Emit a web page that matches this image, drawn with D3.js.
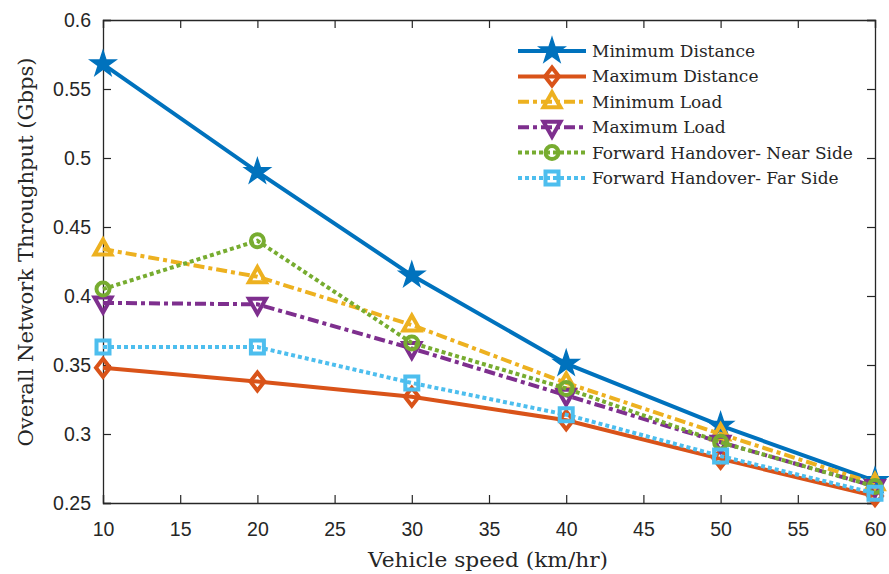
<!DOCTYPE html>
<meta charset="utf-8">
<head>
<script src="https://d3js.org/d3.v7.min.js"></script>
<style>
  body { margin: 0; background: #fff; }
  .tick text { font-family: "Liberation Sans", Arial, sans-serif; font-size: 19.5px; fill: #262626; }
  .lbl { font-family: "DejaVu Serif", serif; fill: #262626; }
</style>
</head>
<body>
<svg width="889" height="574"></svg>
<script>
// data
var speeds = [10, 20, 30, 40, 50, 60];
var minDistance = [0.568, 0.490, 0.415, 0.351, 0.306, 0.266];
var maxDistance = [0.348, 0.338, 0.327, 0.310, 0.282, 0.255];
var minLoad     = [0.434, 0.414, 0.379, 0.337, 0.300, 0.264];
var maxLoad     = [0.395, 0.394, 0.362, 0.328, 0.294, 0.262];
var nearSide    = [0.405, 0.440, 0.366, 0.333, 0.294, 0.262];
var farSide     = [0.363, 0.363, 0.337, 0.314, 0.284, 0.257];
var xTicks = [10, 15, 20, 25, 30, 35, 40, 45, 50, 55, 60];
var yTicks = [0.25, 0.3, 0.35, 0.4, 0.45, 0.5, 0.55, 0.6];

var series = [
  { name: "Minimum Distance", values: minDistance, color: "#0072BD", dash: null, marker: "star" },
  { name: "Maximum Distance", values: maxDistance, color: "#D95319", dash: null, marker: "diamond" },
  { name: "Minimum Load", values: minLoad, color: "#EDB120", dash: "11,4,4,4", marker: "up" },
  { name: "Maximum Load", values: maxLoad, color: "#7E2F8E", dash: "11,4,4,4", marker: "down" },
  { name: "Forward Handover- Near Side", values: nearSide, color: "#77AC30", dash: "4,3", marker: "circle" },
  { name: "Forward Handover- Far Side", values: farSide, color: "#4DBEEE", dash: "4,3", marker: "square" }
];

var svg = d3.select("svg");
var pLeft = 103, pRight = 875, pTop = 20, pBottom = 503;
var lw = 4;

var x = d3.scaleLinear().domain([10, 60]).range([pLeft, pRight]);
var y = d3.scaleLinear().domain([0.25, 0.6]).range([pBottom, pTop]);

// axes (ticks inward, box on)
var axisColor = "#262626";
var gx = svg.append("g").attr("transform", "translate(0," + pBottom + ")")
  .call(d3.axisBottom(x).tickValues(xTicks).tickSize(-8).tickPadding(19).tickFormat(d3.format("d")));
var gy = svg.append("g").attr("transform", "translate(" + pLeft + ",0)")
  .call(d3.axisLeft(y).tickValues(yTicks).tickSize(-8).tickPadding(12).tickFormat(function (d) { return String(+d.toFixed(2)); }));
var gx2 = svg.append("g").attr("transform", "translate(0," + pTop + ")")
  .call(d3.axisTop(x).tickValues(xTicks).tickSize(-8).tickFormat(""));
var gy2 = svg.append("g").attr("transform", "translate(" + pRight + ",0)")
  .call(d3.axisRight(y).tickValues(yTicks).tickSize(-8).tickFormat(""));
[gx, gy, gx2, gy2].forEach(function (g) {
  g.selectAll("path, line").attr("stroke", axisColor).attr("stroke-width", 1.2);
  g.select(".domain").attr("stroke-width", 1.3);
});

// marker shapes
function markerPath(type) {
  if (type == "star") return d3.symbol().type(d3.symbolStar).size(200)();
  if (type == "diamond") return "M0,-9L7,0L0,9L-7,0Z";
  if (type == "up") return "M0,-9.5L8.5,5.5L-8.5,5.5Z";
  if (type == "down") return "M0,9.5L8.5,-5.5L-8.5,-5.5Z";
  if (type == "square") return "M-6.5,-6.5H6.5V6.5H-6.5Z";
  return null;
}
function drawMarker(g, s, cx, cy) {
  if (s.marker == "circle") {
    g.append("circle").attr("cx", cx).attr("cy", cy).attr("r", 6.5)
      .attr("fill", "none").attr("stroke", s.color).attr("stroke-width", lw);
  } else if (s.marker == "star") {
    g.append("path").attr("d", markerPath("star")).attr("transform", "translate(" + cx + "," + cy + ")")
      .attr("fill", s.color).attr("stroke", s.color).attr("stroke-width", 1.5);
  } else {
    g.append("path").attr("d", markerPath(s.marker)).attr("transform", "translate(" + cx + "," + cy + ")")
      .attr("fill", "none").attr("stroke", s.color).attr("stroke-width", lw).attr("stroke-linejoin", "miter");
  }
}

var line = d3.line().x(function (d, i) { return x(speeds[i]); }).y(function (d) { return y(d); });

var plot = svg.append("g");
series.forEach(function (s) {
  var g = plot.append("g");
  g.append("path").attr("d", line(s.values))
    .attr("fill", "none").attr("stroke", s.color).attr("stroke-width", lw)
    .attr("stroke-dasharray", s.dash);
  s.values.forEach(function (v, i) { drawMarker(g, s, x(speeds[i]), y(v)); });
});

// legend
var legend = svg.append("g");
series.forEach(function (s, i) {
  var ly = 51 + i * 25.4;
  legend.append("line").attr("x1", 518).attr("x2", 586).attr("y1", ly).attr("y2", ly)
    .attr("stroke", s.color).attr("stroke-width", lw).attr("stroke-dasharray", s.dash);
  drawMarker(legend, s, 552, ly);
  legend.append("text").attr("class", "lbl").attr("x", 592).attr("y", ly + 6)
    .style("font-size", "17px").text(s.name);
});

// axis labels
svg.append("text").attr("class", "lbl").attr("x", 488).attr("y", 567)
  .attr("text-anchor", "middle").style("font-size", "20px")
  .attr("textLength", 240).attr("lengthAdjust", "spacingAndGlyphs").text("Vehicle speed (km/hr)");
svg.append("text").attr("class", "lbl")
  .attr("transform", "translate(33," + 252 + ") rotate(-90)")
  .attr("text-anchor", "middle").style("font-size", "20px")
  .attr("textLength", 389).attr("lengthAdjust", "spacingAndGlyphs").text("Overall Network Throughput (Gbps)");
</script>
</body>
